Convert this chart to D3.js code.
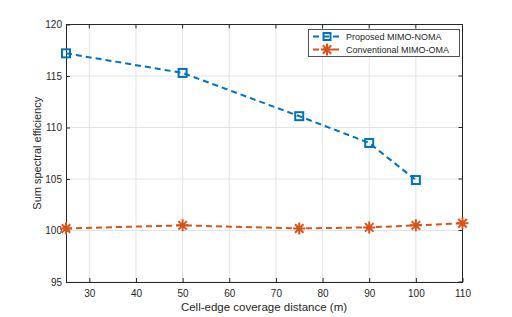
<!DOCTYPE html>
<html>
<head>
<meta charset="utf-8">
<script src="https://cdn.jsdelivr.net/npm/d3@7"></script>
<style>
  body { margin: 0; background: #fff; }
  text { font-family: "Liberation Sans", Arial, sans-serif; }
</style>
</head>
<body>
<svg id="chart" width="512" height="317"></svg>
<script>
// Data
const nomaX = [25, 50, 75, 90, 100];
const nomaY = [117.2, 115.3, 111.1, 108.5, 104.9];
const omaX = [25, 50, 75, 90, 100, 110];
const omaY = [100.2, 100.5, 100.2, 100.3, 100.5, 100.7];
const xTicks = [30, 40, 50, 60, 70, 80, 90, 100, 110];
const yTicks = [95, 100, 105, 110, 115, 120];

const blue = '#0072BD';
const orange = '#D95319';

const svg = d3.select('#chart');
svg.append('rect').attr('width', 512).attr('height', 317).attr('fill', '#fff');

const margin = { left: 66, top: 24.5, right: 462.5, bottom: 282 };

const x = d3.scaleLinear().domain([25, 110]).range([margin.left, margin.right]);
const y = d3.scaleLinear().domain([95, 120]).range([margin.bottom, margin.top]);

// Grid
const grid = svg.append('g');
xTicks.forEach(t => {
  grid.append('line')
    .attr('x1', x(t)).attr('x2', x(t))
    .attr('y1', margin.top).attr('y2', margin.bottom)
    .attr('stroke', '#e3e3e3').attr('stroke-width', 1);
});
yTicks.forEach(t => {
  grid.append('line')
    .attr('x1', margin.left).attr('x2', margin.right)
    .attr('y1', y(t)).attr('y2', y(t))
    .attr('stroke', '#e3e3e3').attr('stroke-width', 1);
});

// Axes
const xAxis = d3.axisBottom(x).tickValues(xTicks).tickSizeInner(-4).tickSizeOuter(0).tickPadding(8);
const yAxis = d3.axisLeft(y).tickValues(yTicks).tickSizeInner(-4).tickSizeOuter(0).tickPadding(4);

const gx = svg.append('g').attr('transform', `translate(0,${margin.bottom})`).call(xAxis);
const gy = svg.append('g').attr('transform', `translate(${margin.left},0)`).call(yAxis);

[gx, gy].forEach(g => {
  g.select('.domain').attr('stroke', '#262626');
  g.selectAll('.tick line').attr('stroke', '#262626');
  g.selectAll('.tick text').attr('fill', '#262626').style('font-size', '10px');
});

// Box on top and right with ticks
svg.append('line')
  .attr('x1', margin.left).attr('x2', margin.right)
  .attr('y1', margin.top).attr('y2', margin.top)
  .attr('stroke', '#262626');
svg.append('line')
  .attr('x1', margin.right).attr('x2', margin.right)
  .attr('y1', margin.top).attr('y2', margin.bottom)
  .attr('stroke', '#262626');
xTicks.forEach(t => {
  svg.append('line').attr('x1', x(t)).attr('x2', x(t))
    .attr('y1', margin.top).attr('y2', margin.top + 4).attr('stroke', '#262626');
});
yTicks.forEach(t => {
  svg.append('line').attr('x1', margin.right).attr('x2', margin.right - 4)
    .attr('y1', y(t)).attr('y2', y(t)).attr('stroke', '#262626');
});

// Labels
svg.append('text')
  .attr('x', 264)
  .attr('y', 311)
  .attr('text-anchor', 'middle')
  .attr('fill', '#262626')
  .style('font-size', '11.5px')
  .text('Cell-edge coverage distance (m)');

svg.append('text')
  .attr('transform', `translate(41,${(margin.top + margin.bottom) / 2}) rotate(-90)`)
  .attr('text-anchor', 'middle')
  .attr('fill', '#262626')
  .style('font-size', '11px')
  .text('Sum spectral efficiency');

// Lines
const line = d3.line().x(d => x(d[0])).y(d => y(d[1]));
const nomaData = nomaX.map((d, i) => [d, nomaY[i]]);
const omaData = omaX.map((d, i) => [d, omaY[i]]);

svg.append('path').datum(nomaData)
  .attr('d', line).attr('fill', 'none')
  .attr('stroke', blue).attr('stroke-width', 2)
  .attr('stroke-dasharray', '6,4');

svg.append('path').datum(omaData)
  .attr('d', line).attr('fill', 'none')
  .attr('stroke', orange).attr('stroke-width', 2)
  .attr('stroke-dasharray', '6,4');

// Markers
function drawSquare(g, cx, cy, s) {
  g.append('rect')
    .attr('x', cx - s / 2).attr('y', cy - s / 2)
    .attr('width', s).attr('height', s)
    .attr('fill', 'none').attr('stroke', blue).attr('stroke-width', 2);
}
function drawStar(g, cx, cy, r) {
  const p = d3.path();
  [0, 45, 90, 135].forEach(a => {
    const rad = a * Math.PI / 180;
    p.moveTo(cx - r * Math.cos(rad), cy - r * Math.sin(rad));
    p.lineTo(cx + r * Math.cos(rad), cy + r * Math.sin(rad));
  });
  g.append('path').attr('d', p.toString())
    .attr('stroke', orange).attr('stroke-width', 2).attr('fill', 'none');
}

const marks = svg.append('g');
nomaData.forEach(d => drawSquare(marks, x(d[0]), y(d[1]), 8));
omaData.forEach(d => drawStar(marks, x(d[0]), y(d[1]), 6));

// Legend
const lg = svg.append('g');
lg.append('rect')
  .attr('x', 308.5).attr('y', 29.5).attr('width', 151).attr('height', 27)
  .attr('fill', '#fff').attr('stroke', '#262626').attr('stroke-width', 0.8);

const legendItems = [
  { label: 'Proposed MIMO-NOMA', color: blue, type: 'square' },
  { label: 'Conventional MIMO-OMA', color: orange, type: 'star' }
];
legendItems.forEach((item, i) => {
  const ly = 36.5 + i * 13;
  lg.append('line')
    .attr('x1', 312).attr('x2', 342)
    .attr('y1', ly).attr('y2', ly)
    .attr('stroke', item.color).attr('stroke-width', 2)
    .attr('stroke-dasharray', '6,4').attr('stroke-dashoffset', -1);
  if (item.type === 'square') drawSquare(lg, 327, ly, 7);
  else drawStar(lg, 327, ly, 6);
  lg.append('text')
    .attr('x', 346).attr('y', ly + 3)
    .attr('fill', '#262626')
    .style('font-size', '9px')
    .text(item.label);
});
</script>
</body>
</html>
